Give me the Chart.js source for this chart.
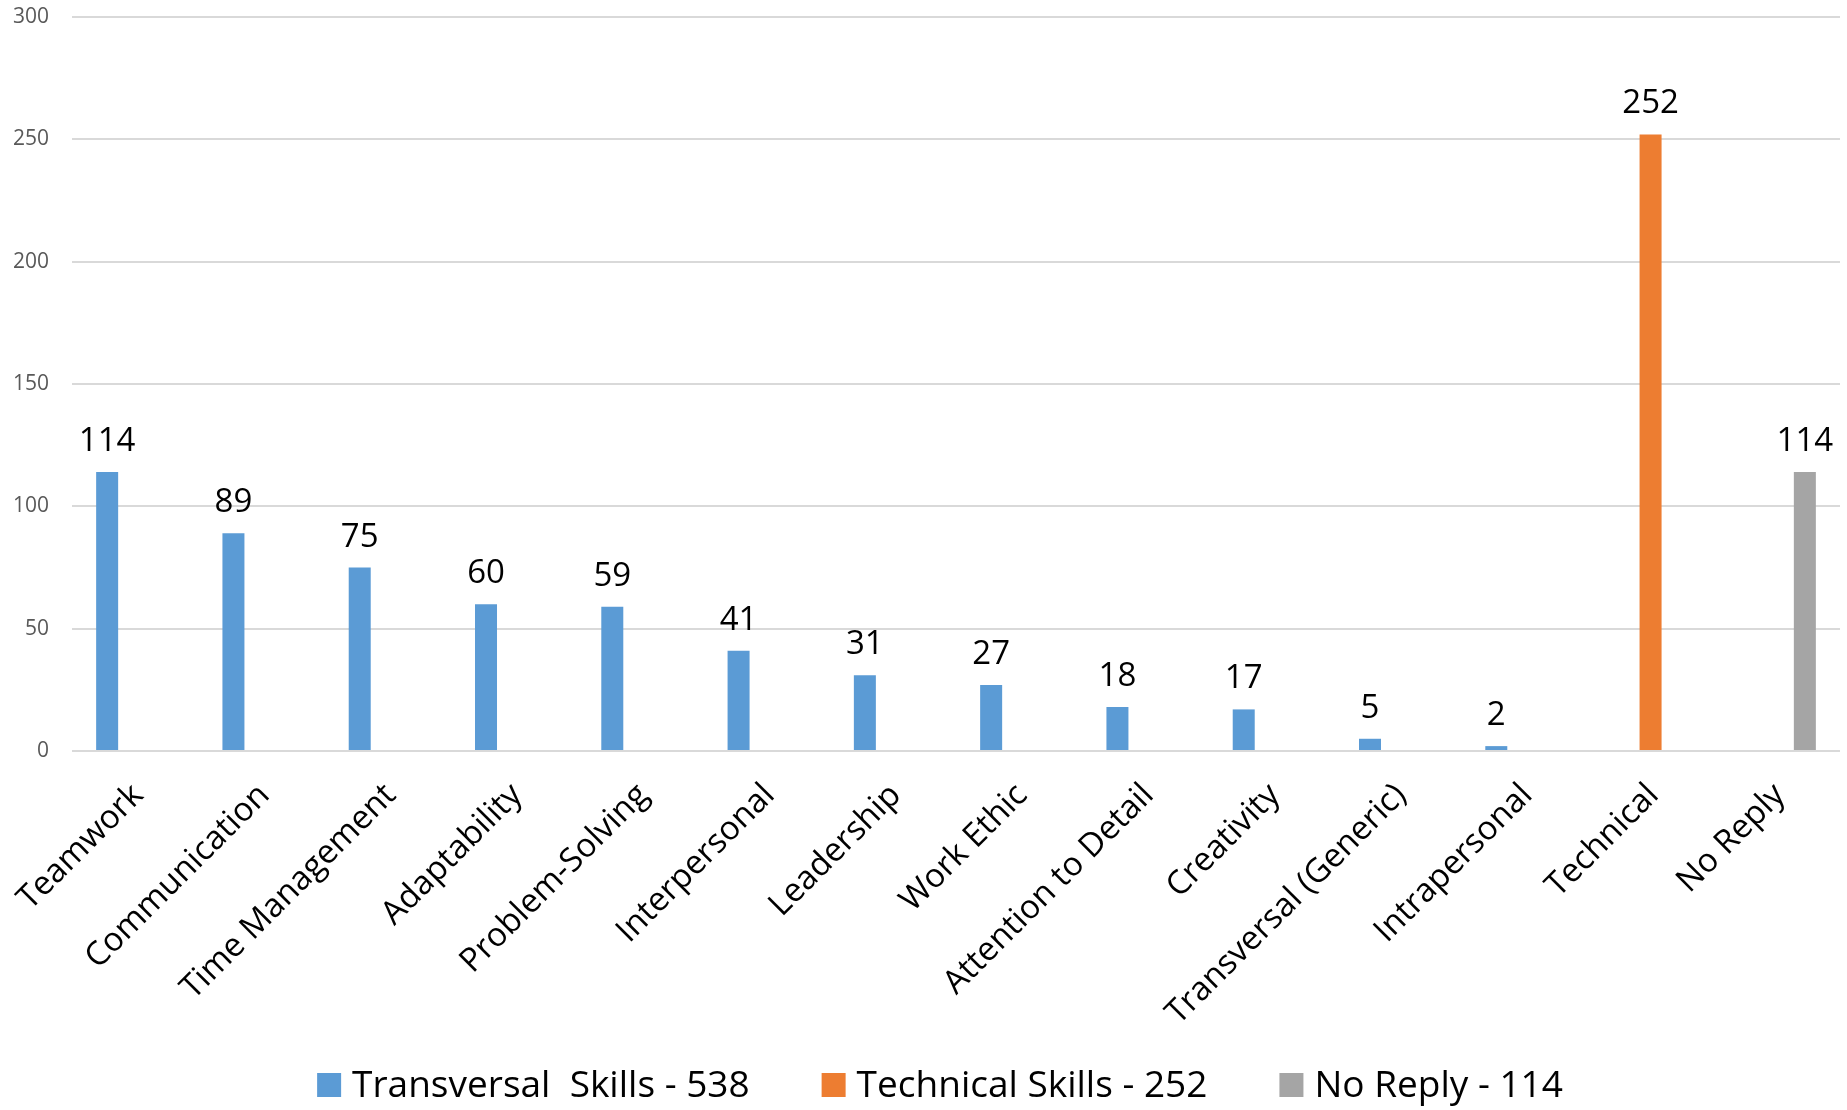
<!DOCTYPE html>
<html>
<head>
<meta charset="utf-8">
<script src="https://cdn.jsdelivr.net/npm/chart.js@4.4.1/dist/chart.umd.min.js"></script>
<style>
  html, body { margin: 0; padding: 0; background: #fff; }
  #wrap { width: 1847px; height: 1110px; }
</style>
</head>
<body>
<div id="wrap"><canvas id="skills"></canvas></div>
<script>
/* -------------------------
   DATA
------------------------- */
const categories = [
  "Teamwork", "Communication", "Time Management", "Adaptability",
  "Problem-Solving", "Interpersonal", "Leadership", "Work Ethic",
  "Attention to Detail", "Creativity", "Transversal (Generic)",
  "Intrapersonal", "Technical", "No Reply"
];

const transversalValues = [114, 89, 75, 60, 59, 41, 31, 27, 18, 17, 5, 2, null, null];
const technicalValues = [null, null, null, null, null, null, null, null, null, null, null, null, 252, null];
const noReplyValues = [null, null, null, null, null, null, null, null, null, null, null, null, null, 114];

const seriesNames = ["Transversal  Skills - 538", "Technical Skills - 252", "No Reply - 114"];
const seriesColors = ["#5B9BD5", "#ED7D31", "#A5A5A5"];

const yTicks = { min: 0, max: 300, step: 50 };

const FONT = "'Open Sans', sans-serif";

/* -------------------------
   PLUGINS
------------------------- */
// value labels above each bar
const valueLabels = {
  id: "valueLabels",
  afterDatasetsDraw(chart) {
    const ctx = chart.ctx;
    ctx.save();
    ctx.font = "33px " + FONT;
    ctx.fillStyle = "#000";
    ctx.textAlign = "center";
    ctx.textBaseline = "alphabetic";
    chart.data.datasets.forEach((ds, i) => {
      const meta = chart.getDatasetMeta(i);
      meta.data.forEach((bar, j) => {
        const v = ds.data[j];
        if (v === null || v === undefined) return;
        ctx.fillText(String(v), bar.x, bar.y - 21);
      });
    });
    ctx.restore();
  }
};

// legend drawn at the bottom, spaced like the original
const bottomLegend = {
  id: "bottomLegend",
  afterDraw(chart) {
    const ctx = chart.ctx;
    const box = 24, gap = 11, itemGap = 72, cy = 1085, centerX = 940;
    ctx.save();
    ctx.font = "37px " + FONT;
    ctx.textBaseline = "middle";
    const items = chart.data.datasets.map(ds => ({
      text: ds.label, color: ds.backgroundColor, w: ctx.measureText(ds.label).width
    }));
    const total = items.reduce((s, it) => s + box + gap + it.w, 0) + itemGap * (items.length - 1);
    let x = centerX - total / 2;
    items.forEach(it => {
      ctx.fillStyle = it.color;
      ctx.fillRect(x, cy - box / 2, box, box);
      ctx.fillStyle = "#000";
      ctx.fillText(it.text, x + box + gap, cy + 1);
      x += box + gap + it.w + itemGap;
    });
    ctx.restore();
  }
};

/* -------------------------
   CHART
------------------------- */
const valueSets = [transversalValues, technicalValues, noReplyValues];

new Chart(document.getElementById("skills"), {
  type: "bar",
  data: {
    labels: categories,
    datasets: valueSets.map((vals, i) => ({
      label: seriesNames[i],
      data: vals,
      backgroundColor: seriesColors[i],
      categoryPercentage: 0.665,
      barPercentage: 0.786
    }))
  },
  options: {
    responsive: true,
    maintainAspectRatio: false,
    animation: false,
    layout: { padding: { top: 17, right: 7, left: 0, bottom: 69 } },
    plugins: {
      legend: { display: false },
      tooltip: { enabled: false }
    },
    scales: {
      x: {
        grid: { display: false, drawTicks: false },
        border: { display: false },
        ticks: {
          autoSkip: false,
          minRotation: 45,
          maxRotation: 45,
          padding: 25,
          labelOffset: 3,
          color: "#000",
          font: { family: FONT, size: 33 }
        },
        afterFit(scale) {
          scale.height = 290;
          scale.paddingLeft = 0;
          scale.paddingRight = 0;
        }
      },
      y: {
        min: yTicks.min,
        max: yTicks.max,
        grid: { color: "#d9d9d9", lineWidth: 2, drawTicks: false },
        border: { display: false },
        ticks: {
          stepSize: yTicks.step,
          padding: 23,
          color: "#595959",
          font: { family: FONT, size: 21 }
        },
        afterFit(scale) {
          scale.width = 72;
          scale.paddingTop = 0;
          scale.paddingBottom = 0;
        }
      }
    }
  },
  plugins: [valueLabels, bottomLegend]
});
</script>
</body>
</html>
